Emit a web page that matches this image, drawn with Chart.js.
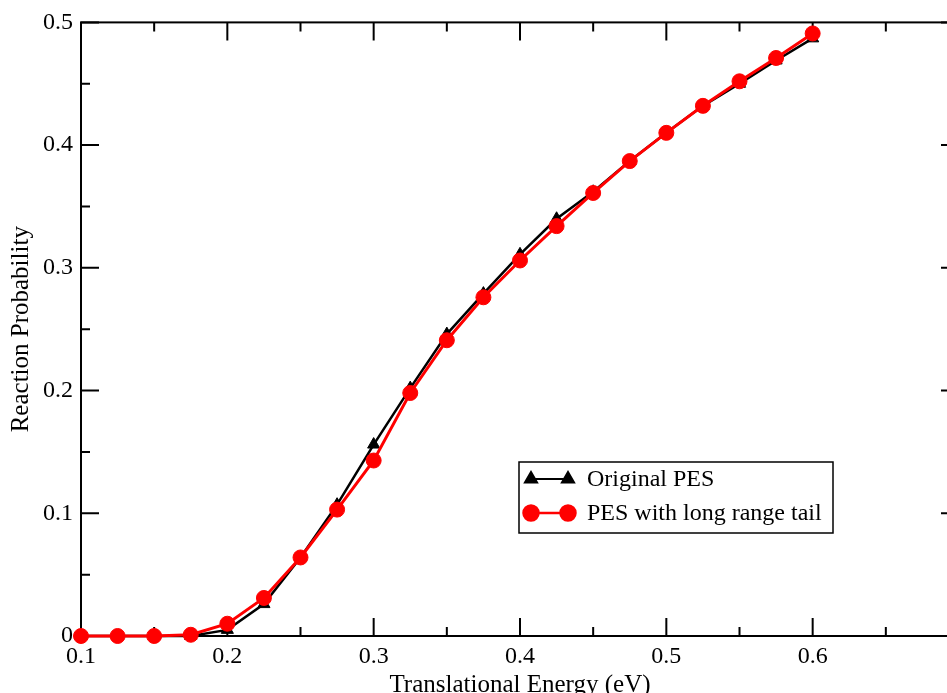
<!DOCTYPE html>
<html>
<head>
<meta charset="utf-8">
<script src="https://cdn.jsdelivr.net/npm/chart.js@4.4.1/dist/chart.umd.min.js"></script>
<style>
  html, body { margin: 0; padding: 0; background: #fff; overflow: hidden; }
  #wrap { width: 947px; height: 693px; overflow: hidden; }
</style>
</head>
<body>
<div id="wrap"><canvas id="graph_data" width="1000" height="710"></canvas></div>
<script>
// data
var energy = [0.1, 0.125, 0.15, 0.175, 0.2, 0.225, 0.25, 0.275, 0.3, 0.325, 0.35,
              0.375, 0.4, 0.425, 0.45, 0.475, 0.5, 0.525, 0.55, 0.575, 0.6];
var originalPES = [0, 0, 0, 0, 0.005, 0.026, 0.064, 0.107, 0.156, 0.202, 0.246,
                   0.279, 0.311, 0.340, 0.362, 0.387, 0.410, 0.432, 0.450, 0.469, 0.487];
var longRangePES = [0, 0, 0, 0.001, 0.010, 0.031, 0.064, 0.103, 0.143, 0.198, 0.241,
                    0.276, 0.306, 0.334, 0.361, 0.387, 0.410, 0.432, 0.452, 0.471, 0.491];
var xTicks = [0.1, 0.2, 0.3, 0.4, 0.5, 0.6, 0.7];
var xTickLabels = ["0.1", "0.2", "0.3", "0.4", "0.5", "0.6", ""];
var yTicks = [0, 0.1, 0.2, 0.3, 0.4, 0.5];
var yTickLabels = ["0", "0.1", "0.2", "0.3", "0.4", "0.5"];
var seriesNames = ["Original PES", "PES with long range tail"];

var serif = "'Liberation Serif', 'DejaVu Serif', serif";

// frame with inward major/minor ticks on all four sides
var framePlugin = {
    id: "frame",
    beforeDatasetsDraw: function(chart){
        var ctx = chart.ctx;
        var a = chart.chartArea;
        var xs = chart.scales.x, ys = chart.scales.y;
        ctx.save();
        ctx.strokeStyle = "#000";
        ctx.lineWidth = 2;
        ctx.strokeRect(a.left, a.top, a.right - a.left, a.bottom - a.top);
        function tickList(scale){
            var out = [];
            var t = scale.ticks;
            for (var i = 0; i < t.length; i++){
                out.push({v: t[i].value, major: true});
                if (i < t.length - 1) out.push({v: (t[i].value + t[i + 1].value) / 2, major: false});
            }
            return out;
        }
        ctx.beginPath();
        tickList(xs).forEach(function(t){
            var px = xs.getPixelForValue(t.v);
            var len = t.major ? 18 : 9;
            ctx.moveTo(px, a.bottom); ctx.lineTo(px, a.bottom - len);
            ctx.moveTo(px, a.top); ctx.lineTo(px, a.top + len);
        });
        tickList(ys).forEach(function(t){
            var py = ys.getPixelForValue(t.v);
            var len = t.major ? 18 : 9;
            ctx.moveTo(a.left, py); ctx.lineTo(a.left + len, py);
            ctx.moveTo(a.right, py); ctx.lineTo(a.right - len, py);
        });
        ctx.stroke();
        ctx.restore();
    }
};

// legend box: a short line with a marker at each end
var legendPlugin = {
    id: "boxLegend",
    afterDraw: function(chart){
        var ctx = chart.ctx;
        var bx = 519, by = 462, bw = 314, bh = 71;
        ctx.save();
        ctx.fillStyle = "#fff";
        ctx.fillRect(bx, by, bw, bh);
        ctx.strokeStyle = "#000";
        ctx.lineWidth = 1.5;
        ctx.strokeRect(bx, by, bw, bh);
        var rows = [479, 513];
        var list = [chart.data.datasets[0], chart.data.datasets[1]];
        list.forEach(function(ds, i){
            var y = rows[i];
            ctx.strokeStyle = ds.borderColor;
            ctx.fillStyle = ds.backgroundColor;
            ctx.lineWidth = ds.borderWidth - 0.5;
            ctx.beginPath(); ctx.moveTo(531, y); ctx.lineTo(568, y); ctx.stroke();
            [531, 568].forEach(function(px){
                Chart.helpers.drawPoint(ctx, {pointStyle: ds.pointStyle, radius: ds.pointRadius, borderWidth: 1}, px, y);
            });
            ctx.fillStyle = "#000";
            ctx.font = "24px " + serif;
            ctx.textBaseline = "middle";
            ctx.textAlign = "left";
            ctx.fillText(ds.label, 587, y + 1);
        });
        ctx.restore();
    }
};

function pairs(xv, yv){
    return xv.map(function(x, i){ return {x: x, y: yv[i]}; });
}

var chart = new Chart(document.getElementById("graph_data"), {
    type: "line",
    data: {
        datasets: [{
            label: seriesNames[0],
            data: pairs(energy, originalPES),
            borderColor: "#000",
            backgroundColor: "#000",
            borderWidth: 2.5,
            pointStyle: "triangle",
            pointRadius: 7,
            pointBorderWidth: 1,
            order: 2,
            clip: false
        }, {
            label: seriesNames[1],
            data: pairs(energy, longRangePES),
            borderColor: "#ff0000",
            backgroundColor: "#ff0000",
            borderWidth: 3,
            pointStyle: "circle",
            pointRadius: 7.5,
            pointBorderWidth: 1,
            order: 1,
            clip: false
        }]
    },
    options: {
        responsive: false,
        animation: false,
        layout: { padding: { top: 22, right: 41, left: 0, bottom: 0 } },
        plugins: {
            legend: { display: false },
            tooltip: { enabled: false }
        },
        scales: {
            x: {
                type: "linear",
                min: 0.1,
                max: 0.7,
                grid: { display: false, drawTicks: false },
                border: { display: false },
                afterBuildTicks: function(scale){
                    scale.ticks = xTicks.map(function(v){ return {value: v}; });
                },
                afterFit: function(scale){ scale.height = 74; },
                ticks: {
                    color: "#000",
                    padding: 6,
                    maxRotation: 0,
                    autoSkip: false,
                    font: { family: serif, size: 24 },
                    callback: function(v, i){ return xTickLabels[i]; }
                },
                title: {
                    display: true,
                    text: "Translational Energy (eV)",
                    color: "#000",
                    font: { family: serif, size: 25 },
                    padding: { top: 0, bottom: 10 }
                }
            },
            y: {
                type: "linear",
                min: 0,
                max: 0.5,
                grid: { display: false, drawTicks: false },
                border: { display: false },
                afterBuildTicks: function(scale){
                    scale.ticks = yTicks.map(function(v){ return {value: v}; });
                },
                afterFit: function(scale){ scale.width = 81; },
                ticks: {
                    color: "#000",
                    padding: 8,
                    autoSkip: false,
                    font: { family: serif, size: 24 },
                    callback: function(v, i){ return yTickLabels[i]; }
                },
                title: {
                    display: true,
                    text: "Reaction Probability",
                    color: "#000",
                    font: { family: serif, size: 25 },
                    padding: { top: 6, bottom: 0 }
                }
            }
        }
    },
    plugins: [framePlugin, legendPlugin]
});
</script>
</body>
</html>
